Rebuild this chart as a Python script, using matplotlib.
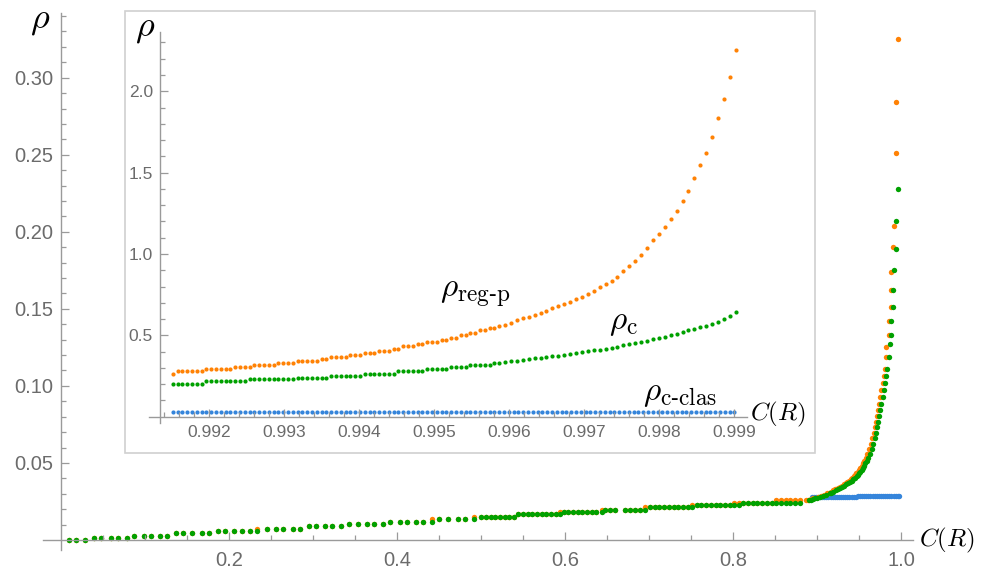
import matplotlib.pyplot as plt
from matplotlib.patches import Rectangle
from matplotlib.ticker import FixedLocator, FormatStrFormatter

plt.rcParams["mathtext.fontset"] = "cm"
plt.rcParams["font.family"] = ["Liberation Sans", "DejaVu Sans"]

BLUE = "#3585db"
ORANGE = "#ff8205"
GREEN = "#00a100"
AXIS = "#9a9a9a"
LABEL = "#6b6b6b"

# ---------------- main plot data ----------------
# low C region, shared grid for rho_c (green) and rho_reg-p (orange)
c_low = [
    0.0095, 0.0179, 0.0290,
    0.0397, 0.0480, 0.0595, 0.0675, 0.0786,
    0.0873, 0.0984, 0.1067, 0.1175, 0.1258,
    0.1373, 0.1456, 0.1563, 0.1675, 0.1758,
    0.1873, 0.1956, 0.2063, 0.2151, 0.2254, 0.2337,
    0.2452, 0.2563, 0.2647, 0.2758, 0.2841,
    0.2952, 0.3036, 0.3143, 0.3226, 0.3337,
    0.3425, 0.3532, 0.3643, 0.3726, 0.3837,
    0.3921, 0.4032, 0.4115, 0.4222, 0.4310, 0.4421,
    0.4504, 0.4611, 0.4726, 0.4813, 0.4921,
    0.5004, 0.5060, 0.5115, 0.5171, 0.5226, 0.5282, 0.5338, 0.5393,
    0.5444, 0.5500, 0.5556, 0.5611, 0.5667, 0.5722, 0.5778, 0.5833, 0.5889, 0.5944,
    0.5985, 0.6041, 0.6096, 0.6152, 0.6207, 0.6263, 0.6318, 0.6374, 0.6437,
    0.6480, 0.6540, 0.6600, 0.6710, 0.6770, 0.6830, 0.6890, 0.6955,
    0.7012, 0.7068, 0.7124, 0.7180, 0.7236, 0.7292, 0.7348, 0.7404, 0.7460, 0.7516,
    0.7568, 0.7624, 0.7680, 0.7736, 0.7792, 0.7848, 0.7904, 0.7960, 0.8016, 0.8072,
    0.8123, 0.8179, 0.8235, 0.8291, 0.8347, 0.8403, 0.8459, 0.8515, 0.8571,
    0.8627, 0.8683, 0.8739, 0.8795,
]
rho_c_low = ([0.0002] * 3 + [0.0013] * 5 + [0.0028] * 5 + [0.0043] * 5
             + [0.0058] * 6 + [0.0074] * 5 + [0.0089] * 5 + [0.0104] * 5
             + [0.0119] * 6 + [0.0134] * 5 + [0.0150] * 8 + [0.0166] * 10
             + [0.0181] * 9 + [0.0196] * 8 + [0.0212] * 10 + [0.0227] * 10
             + [0.0242] * 13)
rho_reg_low = ([0.0002] * 3 + [0.0013] * 5 + [0.0028] * 5 + [0.0043] * 5
               + [0.0058] * 5 + [0.0074] * 6 + [0.0089] * 5 + [0.0104] * 5
               + [0.0119] * 5 + [0.0134] * 5 + [0.0150] * 9 + [0.0166] * 9
               + [0.0181] * 9 + [0.0196] * 8 + [0.0212] * 10 + [0.0227] * 9
               + [0.0242] * 9 + [0.0258] * 6)

# high C region
c_c_hi = [0.8900, 0.8925, 0.8956, 0.8978, 0.9000, 0.9038, 0.9075, 0.9112,
          0.9150, 0.9172, 0.9194, 0.9222, 0.9250, 0.9275, 0.9300, 0.9325,
          0.9350, 0.9372, 0.9393, 0.9412, 0.9430, 0.9451, 0.9472, 0.9486,
          0.9500, 0.9515, 0.9530, 0.9545, 0.9560, 0.9575, 0.9590, 0.9611,
          0.9630, 0.9650, 0.9670, 0.9690, 0.9705, 0.9718, 0.9730, 0.9742,
          0.9755, 0.9768, 0.9780, 0.9795, 0.9808, 0.9820, 0.9835, 0.9857,
          0.9872, 0.9885, 0.9885, 0.9909, 0.9909, 0.9913, 0.9940, 0.9940, 0.9968]
rho_c_hi = [0.0258, 0.0262, 0.0266, 0.0270, 0.0274, 0.0280, 0.0287, 0.0294,
            0.0302, 0.0308, 0.0314, 0.0322, 0.0330, 0.0337, 0.0345, 0.0353,
            0.0362, 0.0370, 0.0378, 0.0386, 0.0395, 0.0405, 0.0415, 0.0423,
            0.0432, 0.0443, 0.0455, 0.0468, 0.0482, 0.0497, 0.0512, 0.0535,
            0.0560, 0.0590, 0.0625, 0.0660, 0.0695, 0.0730, 0.0768, 0.0805,
            0.0845, 0.0885, 0.0930, 0.0975, 0.1020, 0.1065, 0.1110, 0.1190,
            0.1270, 0.1330, 0.1420, 0.1510, 0.1620, 0.1750, 0.1890, 0.2070, 0.2280]
c_reg_hi = [0.8870, 0.8895, 0.8926, 0.8948, 0.8970, 0.9008, 0.9045, 0.9082,
            0.9120, 0.9142, 0.9164, 0.9192, 0.9220, 0.9245, 0.9270, 0.9295,
            0.9320, 0.9342, 0.9363, 0.9382, 0.9400, 0.9421, 0.9442, 0.9456,
            0.9470, 0.9485, 0.9500, 0.9515, 0.9530, 0.9545, 0.9560, 0.9581,
            0.9600, 0.9620, 0.9640, 0.9660, 0.9675, 0.9690, 0.9702, 0.9714,
            0.9727, 0.9740, 0.9752, 0.9766, 0.9780, 0.9795, 0.9810, 0.9825,
            0.9825, 0.9853, 0.9853, 0.9878, 0.9878, 0.9881, 0.9909, 0.9913,
            0.9940, 0.9940, 0.9968]
rho_reg_hi = [0.0258, 0.0262, 0.0266, 0.0270, 0.0274, 0.0280, 0.0287, 0.0294,
              0.0302, 0.0308, 0.0314, 0.0322, 0.0330, 0.0337, 0.0345, 0.0353,
              0.0362, 0.0370, 0.0378, 0.0386, 0.0395, 0.0405, 0.0415, 0.0423,
              0.0432, 0.0443, 0.0455, 0.0468, 0.0482, 0.0497, 0.0512, 0.0535,
              0.0560, 0.0590, 0.0625, 0.0660, 0.0695, 0.0730, 0.0768, 0.0805,
              0.0845, 0.0885, 0.0930, 0.0975, 0.1020, 0.1065, 0.1110, 0.1190,
              0.1255, 0.1330, 0.1420, 0.1510, 0.1620, 0.1740, 0.1900, 0.2040,
              0.2510, 0.2840, 0.3250]
c_clas_hi = [0.8937, 0.8962, 0.8987, 0.9012, 0.9037, 0.9062, 0.9087, 0.9112,
             0.9137, 0.9162, 0.9187, 0.9212, 0.9237, 0.9262, 0.9287, 0.9312,
             0.9337, 0.9362, 0.9387, 0.9412, 0.9437, 0.9462,
             0.9487, 0.9512, 0.9537, 0.9562, 0.9587, 0.9612, 0.9637, 0.9662,
             0.9687, 0.9712, 0.9737, 0.9762, 0.9787, 0.9812, 0.9837, 0.9862,
             0.9887, 0.9912, 0.9937, 0.9962, 0.9980]
rho_clas_hi = [0.0277] * 22 + [0.0288] * 21

# ---------------- inset data ----------------
c_clas_in = [
    0.991516, 0.991580, 0.991644, 0.991708, 0.991772, 0.991836, 0.991900, 0.991964,
    0.992028, 0.992092, 0.992156, 0.992220, 0.992284, 0.992348, 0.992412, 0.992476,
    0.992540, 0.992604, 0.992668, 0.992732, 0.992796, 0.992860, 0.992924, 0.992988,
    0.993052, 0.993116, 0.993180, 0.993244, 0.993308, 0.993372, 0.993436, 0.993500,
    0.993564, 0.993628, 0.993692, 0.993756, 0.993820, 0.993884, 0.993948, 0.994012,
    0.994076, 0.994140, 0.994204, 0.994268, 0.994332, 0.994396, 0.994460, 0.994524,
    0.994588, 0.994652, 0.994716, 0.994780, 0.994844, 0.994908, 0.994972, 0.995036,
    0.995100, 0.995164, 0.995228, 0.995292, 0.995356, 0.995420, 0.995484, 0.995548,
    0.995612, 0.995676, 0.995740, 0.995804, 0.995868, 0.995932, 0.995996, 0.996060,
    0.996124, 0.996188, 0.996252, 0.996316, 0.996380, 0.996444, 0.996508, 0.996572,
    0.996636, 0.996700, 0.996764, 0.996828, 0.996892, 0.996956, 0.997020, 0.997084,
    0.997148, 0.997212, 0.997276, 0.997340, 0.997404, 0.997468, 0.997532, 0.997596,
    0.997660, 0.997724, 0.997788, 0.997852, 0.997916, 0.997980, 0.998044, 0.998108,
    0.998172, 0.998236, 0.998300, 0.998364, 0.998428, 0.998492, 0.998556, 0.998620,
    0.998684, 0.998748, 0.998812, 0.998876, 0.998940, 0.999004,
]
rho_clas_in = [0.027] * len(c_clas_in)

c_in = c_clas_in[:69] + [
    0.995947, 0.996026, 0.996105, 0.996184, 0.996263, 0.996341, 0.996420, 0.996499,
    0.996578, 0.996657, 0.996736, 0.996815, 0.996894, 0.996973, 0.997052, 0.997130,
    0.997209, 0.997288, 0.997367, 0.997446, 0.997525, 0.997604, 0.997683, 0.997762,
    0.997841, 0.997920, 0.997998, 0.998077, 0.998156, 0.998235, 0.998314, 0.998393,
    0.998472, 0.998551, 0.998630, 0.998709, 0.998787, 0.998866, 0.998945, 0.999024,
]
rho_reg_in = ([0.264] + [0.279] * 6 + [0.291] * 6 + [0.305] * 4 + [0.316] * 5
              + [0.330] * 4 + [0.342] * 5 + [0.357] * 2 + [0.367] * 4 + [0.377] * 3
              + [0.391] * 3 + [0.404] * 3 + [0.418] * 2 + [0.432] * 3 + [0.449] * 2
              + [0.459] * 3 + [0.473] * 2 + [0.486] * 2 + [0.500] * 2 + [0.514] * 2
              + [0.530] * 2 + [0.547] * 2 + [0.557]
              + [0.564, 0.578, 0.592, 0.604, 0.615, 0.628, 0.640, 0.652, 0.665, 0.679,
                 0.693, 0.707, 0.722, 0.738, 0.756, 0.775, 0.794, 0.815, 0.836, 0.858,
                 0.895, 0.925, 0.955, 0.995, 1.035, 1.085, 1.125, 1.165, 1.215, 1.265,
                 1.325, 1.390, 1.465, 1.545, 1.620, 1.720, 1.835, 1.950, 2.090, 2.254])
rho_c_in = ([0.203] * 7 + [0.217] * 9 + [0.230] * 10 + [0.240] * 7 + [0.252] * 7
            + [0.264] * 7 + [0.279] * 6 + [0.291] * 5 + [0.303] * 4 + [0.316] * 5
            + [0.328] * 2
            + [0.334, 0.340, 0.344, 0.348, 0.354, 0.359, 0.363, 0.368, 0.373, 0.376,
               0.381, 0.387, 0.392, 0.397, 0.405, 0.410, 0.411, 0.417, 0.424, 0.431,
               0.439, 0.447, 0.453, 0.460, 0.466, 0.475, 0.482, 0.489, 0.499, 0.510,
               0.521, 0.530, 0.539, 0.550, 0.560, 0.571, 0.585, 0.600, 0.618, 0.645])

main_xticks = [0.2, 0.4, 0.6, 0.8, 1.0]
main_yticks = [0.05, 0.10, 0.15, 0.20, 0.25, 0.30]
inset_xticks = [0.992, 0.993, 0.994, 0.995, 0.996, 0.997, 0.998, 0.999]
inset_yticks = [0.5, 1.0, 1.5, 2.0]


def mma_axes(ax, x0, y0):
    """Mathematica-like axes crossing at (x0, y0), ticks pointing inward."""
    ax.patch.set_visible(False)
    for s in ["top", "right"]:
        ax.spines[s].set_visible(False)
    ax.spines["left"].set_position(("data", x0))
    ax.spines["bottom"].set_position(("data", y0))
    for s in ["left", "bottom"]:
        ax.spines[s].set_color(AXIS)
        ax.spines[s].set_linewidth(1.0)
    ax.tick_params(which="both", direction="in", color=AXIS, labelcolor=LABEL, width=0.9)
    ax.tick_params(which="major", length=5.8)
    ax.tick_params(which="minor", length=3.3)


W, H = 982, 577
fig = plt.figure(figsize=(W / 100, H / 100), dpi=100)

# main axes
ax = fig.add_axes([43 / W, 1 - 550 / H, 870 / W, 537 / H], zorder=0)
ax.set_xlim(-0.0214, 1.0143)
ax.set_ylim(-0.0065, 0.342)
mma_axes(ax, 0, 0)
ax.xaxis.set_major_locator(FixedLocator(main_xticks))
ax.xaxis.set_minor_locator(FixedLocator([i * 0.05 for i in range(1, 21)]))
ax.yaxis.set_major_locator(FixedLocator(main_yticks))
ax.yaxis.set_minor_locator(FixedLocator([i * 0.01 for i in range(1, 35)]))
ax.xaxis.set_major_formatter(FormatStrFormatter("%.1f"))
ax.yaxis.set_major_formatter(FormatStrFormatter("%.2f"))
ax.tick_params(axis="x", labelsize=14.5, pad=8)
ax.tick_params(axis="y", labelsize=14.5, pad=5.5)

ax.scatter(c_clas_hi, rho_clas_hi, s=15, color=BLUE, linewidths=0)
ax.scatter(c_low, rho_reg_low, s=15, color=ORANGE, linewidths=0)
ax.scatter(c_reg_hi, rho_reg_hi, s=15, color=ORANGE, linewidths=0)
ax.scatter(c_low, rho_c_low, s=15, color=GREEN, linewidths=0)
ax.scatter(c_c_hi, rho_c_hi, s=15, color=GREEN, linewidths=0)

ax.text(-0.0369, 0.3325, r"$\rho$", fontsize=26, ha="left", va="baseline")
ax.text(1.0214, -0.0039, r"$C(R)$", fontsize=18, ha="left", va="baseline")

# inset frame
frame = Rectangle((125 / W, 1 - 453 / H), 690 / W, 442 / H, transform=fig.transFigure,
                  facecolor="white", edgecolor="#d0d0d0", linewidth=1.2, zorder=1)
fig.patches.append(frame)

# inset axes
axi = fig.add_axes([149 / W, 1 - 423 / H, 597.7 / W, 391 / H], zorder=2)
axi.set_xlim(0.99120, 0.999169)
axi.set_ylim(-0.0387, 2.364)
mma_axes(axi, 0.991347, 0)
axi.xaxis.set_major_locator(FixedLocator(inset_xticks))
axi.xaxis.set_minor_locator(FixedLocator([0.9914 + i * 0.0002 for i in range(39)]))
axi.yaxis.set_major_locator(FixedLocator(inset_yticks))
axi.yaxis.set_minor_locator(FixedLocator([i * 0.1 for i in range(1, 24)]))
axi.xaxis.set_major_formatter(FormatStrFormatter("%.3f"))
axi.yaxis.set_major_formatter(FormatStrFormatter("%.1f"))
axi.tick_params(axis="x", labelsize=12.5, pad=6)
axi.tick_params(axis="y", labelsize=12.5, pad=5)

axi.scatter(c_clas_in, rho_clas_in, s=9, color=BLUE, linewidths=0)
axi.scatter(c_in, rho_reg_in, s=9, color=ORANGE, linewidths=0)
axi.scatter(c_in, rho_c_in, s=9, color=GREEN, linewidths=0)

axi.text(0.991013, 2.34, r"$\rho$", fontsize=26, ha="left", va="baseline")
axi.text(0.999213, -0.026, r"$C(R)$", fontsize=18, ha="left", va="baseline")
axi.text(0.99508, 0.736, r"$\rho_{\mathrm{reg‐p}}$", fontsize=24, ha="left", va="baseline")
axi.text(0.997333, 0.539, r"$\rho_{\mathrm{c}}$", fontsize=24, ha="left", va="baseline")
axi.text(0.997787, 0.103, r"$\rho_{\mathrm{c‐clas}}$", fontsize=24, ha="left", va="baseline")

fig.savefig("out.png", dpi=100)
